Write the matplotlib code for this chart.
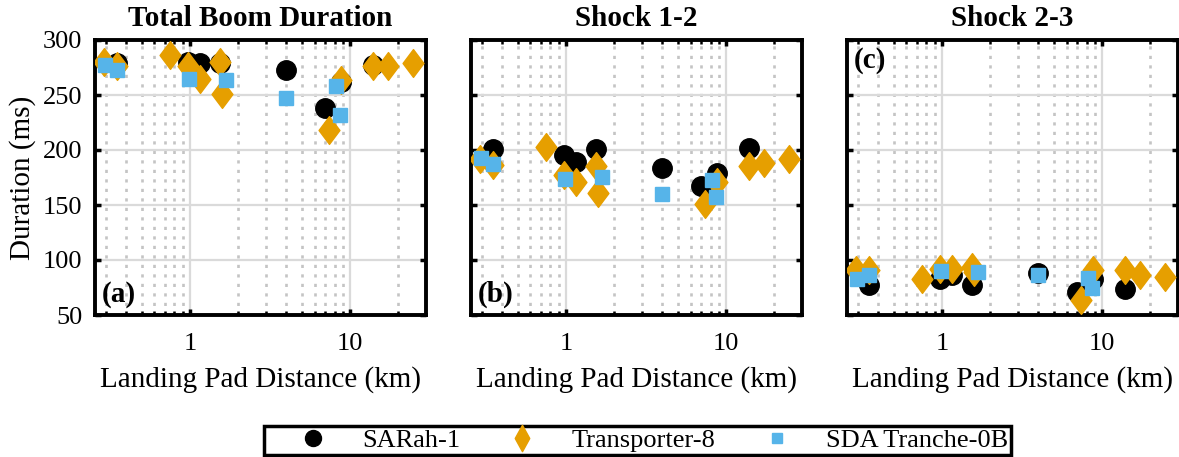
import numpy as np
import matplotlib
matplotlib.use("Agg")
from matplotlib import pyplot as plt
from matplotlib.lines import Line2D
from matplotlib.path import Path
from matplotlib.ticker import LogLocator, NullFormatter, FixedLocator

plt.rcParams['font.family'] = ['Liberation Serif', 'DejaVu Serif']

# distances (km) for each launch
sarahDist = [0.35, 0.97, 1.16, 1.54, 4.0, 6.95, 8.8, 14.0]
transDist = [0.29, 0.35, 0.75, 0.97, 1.16, 1.54, 1.58, 7.4, 8.8, 14.0, 17.3, 24.8]
sdaDist = [0.295, 0.35, 0.98, 1.69, 4.0, 8.2, 8.7]

# durations (ms)
sarahTotal = [279, 280, 279, 279, 273, 238, 262, 277]
sarah12 = [201, 195, 189, 201, 184, 167, 179, 202]
sarah23 = [77, 83, 86, 77, 88, 71, 83, 74]

transTotal = [280, 276, 286, 276, 265, 280, 251, 218, 264, 276, 276, 279]
trans12 = [192, 186, 203, 177, 171, 185, 161, 151, 171, 185, 188, 192]
trans23 = [91, 91, 83, 92, 92, 94, 89, 64, 91, 91, 86, 85]

sdaTotal = [277, 273, 265, 264, 247, 258, 232]
sda12 = [193, 187, 174, 175, 160, 173, 157]
sda23 = [83, 86, 90, 89, 86, 84, 75]

titles = ['Total Boom Duration', 'Shock 1-2', 'Shock 2-3']
panelTags = ['(a)', '(b)', '(c)']
seriesNames = ['SARah-1', 'Transporter-8', 'SDA Tranche-0B']

black, orange, blue = 'black', '#E69F00', '#56B4E9'

def diamond(ratio):
    return Path([(0, 1), (ratio, 0), (0, -1), (-ratio, 0), (0, 1)],
                [Path.MOVETO, Path.LINETO, Path.LINETO, Path.LINETO, Path.CLOSEPOLY])

fig = plt.figure(figsize=(11.79, 4.57), dpi=100)
lefts = [95/1179, 471/1179, 847/1179]
axW, axB, axH = 331/1179, 1-315/457, 275/457

sets = [(sarahTotal, transTotal, sdaTotal), (sarah12, trans12, sda12), (sarah23, trans23, sda23)]
for i, (sv, tv, dv) in enumerate(sets):
    ax = fig.add_axes([lefts[i], axB, axW, axH])
    ax.set_xscale('log')
    ax.set_xlim(0.255, 29.8)
    ax.set_ylim(50, 300)
    ax.set_yticks([50, 100, 150, 200, 250, 300])
    ax.xaxis.set_major_locator(FixedLocator([1, 10]))
    ax.set_xticklabels(['1', '10'])
    ax.xaxis.set_minor_locator(LogLocator(base=10, subs=np.arange(2, 10)))
    ax.xaxis.set_minor_formatter(NullFormatter())
    ax.grid(True, which='major', color='#dadada', lw=1.6, zorder=0)
    ax.grid(True, which='minor', axis='x', color='#c4c4c4', lw=1.9, ls=(0, (1.2, 2.4)), zorder=0)
    ax.set_axisbelow(True)
    ax.tick_params(which='both', direction='in', top=True, right=True, labelsize=19)
    ax.tick_params(axis='x', pad=13)
    ax.tick_params(axis='y', pad=9)
    ax.tick_params(which='major', length=4, width=2.5)
    ax.tick_params(which='minor', length=3, width=1.8)
    for s in ax.spines.values():
        s.set_linewidth(2.8)
    ax.plot(sarahDist, sv, 'o', color=black, ms=14, ls='none', zorder=3)
    ax.plot(transDist, tv, marker=diamond(0.75), color=orange, ms=20, ls='none', zorder=4)
    ax.plot(sdaDist, dv, 's', color=blue, ms=10.5, ls='none', zorder=5)
    ax.set_title(titles[i], fontsize=21, fontweight='bold', pad=10)
    ax.set_xlabel('Landing Pad Distance (km)', fontsize=21, labelpad=8)
    if i == 0:
        ax.set_ylabel('Duration (ms)', fontsize=21, labelpad=5)
    else:
        ax.set_yticklabels([])
    tagY = 0.047 if i < 2 else 0.898
    ax.text(0.021, tagY, panelTags[i], transform=ax.transAxes, fontsize=21,
            fontweight='bold', va='baseline', ha='left')

handles = [Line2D([], [], ls='none', marker='o', color=black, ms=11.5),
           Line2D([], [], ls='none', marker=diamond(0.55), color=orange, ms=19),
           Line2D([], [], ls='none', marker='s', color=blue, ms=7)]
leg = fig.legend(handles, seriesNames, loc='lower center', bbox_to_anchor=(637.5/1179, 2/457), ncol=3,
                 fontsize=19, frameon=True, fancybox=False, edgecolor='black', framealpha=1,
                 handlelength=3.5, handletextpad=0.1, columnspacing=0.6, borderpad=0.1,
                 borderaxespad=0)
leg.get_frame().set_linewidth(2.5)

fig.savefig('out.png', dpi=100)
